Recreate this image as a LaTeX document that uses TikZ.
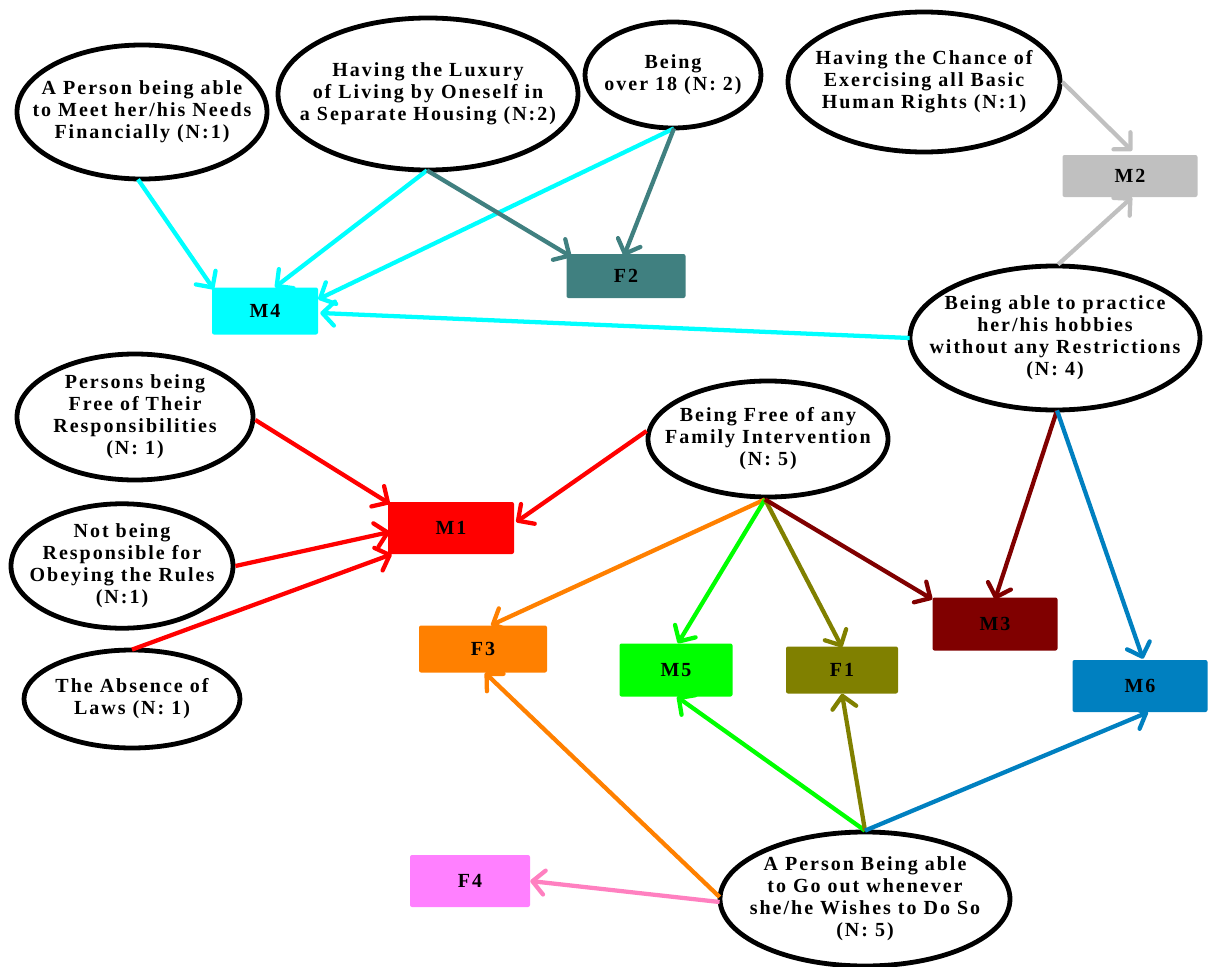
\documentclass[tikz,border=0pt]{standalone}
\usepackage{fontspec}
\setmainfont{Liberation Serif}[LetterSpace=10]
\usetikzlibrary{arrows.meta,calc,shapes.geometric}
\definecolor{cM4}{HTML}{00FFFF}
\definecolor{cF2}{HTML}{408080}
\definecolor{cM2}{HTML}{C0C0C0}
\definecolor{cM1}{HTML}{FF0000}
\definecolor{cF3}{HTML}{FF8000}
\definecolor{cM5}{HTML}{00FF00}
\definecolor{cF1}{HTML}{808000}
\definecolor{cM3}{HTML}{800000}
\definecolor{cM6}{HTML}{0080C0}
\definecolor{cF4}{HTML}{FF80FF}
\definecolor{cF4a}{HTML}{FF80C0}
\tikzset{
  ell/.style={draw=black, line width=3.6pt, ellipse, inner sep=0pt,
    font=\fontsize{15pt}{16.5pt}\selectfont\bfseries},
  box/.style={rectangle, rounded corners=1.5pt, inner sep=0pt, minimum width=#1*0.75pt,
    font=\fontsize{15pt}{16.5pt}\selectfont\bfseries},
  con/.style={line width=3.2pt, draw=#1, -{Straight Barb[length=9pt,width=18pt,line width=3.2pt,round]}}
}
\newcommand\E[6]{\node[ell, minimum width={#4*1.5pt}, minimum height={#5*1.5pt}] (#1) at (#2,#3)
  {\makebox[0pt][c]{\begin{tabular}{@{}c@{}}#6\end{tabular}}};}
\newcommand\B[7]{\node[box=#4, minimum height={#5*0.75pt}, fill=#6] (#1) at (#2,#3) {#7};}
\begin{document}
\begin{tikzpicture}[x=0.75pt,y=-0.75pt]
\useasboundingbox (0,0) rectangle (1208,967);
% ellipses
\E{e1}{142}{112}{125}{67}{A Person being able\\to Meet her/his Needs\\Financially (N:1)}
\E{e2}{428}{94}{150}{76}{Having the Luxury\\of Living by Oneself in\\a Separate Housing (N:2)}
\E{e3}{673}{75}{88}{53}{Being\\over 18 (N: 2)}
\E{e4}{924}{82}{136}{70}{Having the Chance of\\Exercising all Basic\\Human Rights (N:1)}
\E{e5}{1055}{338}{145}{72}{Being able to practice\\her/his hobbies\\without any Restrictions\\(N: 4)}
\E{e6}{135}{417}{118}{63}{Persons being\\Free of Their\\Responsibilities\\(N: 1)}
\E{e7}{122}{566}{111}{59}{Not being\\Responsible for\\Obeying the Rules\\(N:1)}
\E{e8}{132}{699}{108}{49}{The Absence of\\Laws (N: 1)}
\E{e9}{768}{439}{120}{58}{Being Free of any\\Family Intervention\\(N: 5)}
\E{e10}{865}{899}{145}{67}{A Person Being able\\to Go out whenever\\she/he Wishes to Do So\\(N: 5)}
% boxes
\B{M4}{265}{311}{106}{47}{cM4}{M4}
\B{F2}{626}{276}{119}{44}{cF2}{F2}
\B{M2}{1130}{176}{135}{42}{cM2}{M2}
\B{M1}{451}{528}{126}{52}{cM1}{M1}
\B{F3}{483}{649}{128}{47}{cF3}{F3}
\B{M5}{676}{670}{113}{53}{cM5}{M5}
\B{F1}{842}{670}{112}{47}{cF1}{F1}
\B{M3}{995}{624}{125}{53}{cM3}{M3}
\B{M6}{1140}{686}{135}{52}{cM6}{M6}
\B{F4}{470}{881}{120}{52}{cF4}{F4}
% connectors
\draw[con=cM4] ($(e1.south)+(-4,-2)$) -- ($(M4.north west)+(2,2)$);
\draw[con=cM4] ($(e2.south)+(-1,-2)$) -- ($(M4.north)+(10,0)$);
\draw[con=cM4] ($(e3.south)+(1,-2)$) -- ($(M4.north east)+(0,12)$);
\draw[con=cF2] ($(e2.south)+(-1,-2)$) -- ($(F2.north west)+(5,3)$);
\draw[con=cF2] ($(e3.south)+(1,-2)$) -- ($(F2.north)+(-2,2)$);
\draw[con=cM2] (e4.east) -- ($(M2.north)+(2,-4)$);
\draw[con=cM2] ($(e5.north)+(3,1)$) -- ($(M2.south)+(2,0)$);
\draw[con=cM4] ($(e5.west)+(2,0)$) -- ($(M4.east)+(2,2)$);
\draw[con=cM1] ($(e6.east)+(0,3)$) -- ($(M1.north west)+(2,2)$);
\draw[con=cM1] (e7.east) -- ($(M1.west)+(2,4)$);
\draw[con=cM1] ($(e8.north)+(0,2)$) -- ($(M1.south west)+(4,0)$);
\draw[con=cM1] ($(e9.west)+(1,-8)$) -- ($(M1.east)+(2,-6)$);
\draw[con=cF3] ($(e9.south)+(-3,0)$) -- ($(F3.north)+(8,0)$);
\draw[con=cM5] ($(e9.south)+(-3,0)$) -- ($(M5.north)+(2,0)$);
\draw[con=cF1] ($(e9.south)+(-3,0)$) -- ($(F1.north)+(0,1)$);
\draw[con=cM3] ($(e9.south)+(-3,0)$) -- ($(M3.north west)+(0,2)$);
\draw[con=cM3] ($(e5.south)+(2,-2)$) -- ($(M3.north)+(0,2)$);
\draw[con=cM6] ($(e5.south)+(2,-2)$) -- ($(M6.north)+(3,-1)$);
\draw[con=cM5] ($(e10.north)+(0,1)$) -- ($(M5.south)+(1,0)$);
\draw[con=cF1] ($(e10.north)+(0,1)$) -- ($(F1.south)+(0,0)$);
\draw[con=cM6] ($(e10.north)+(0,1)$) -- ($(M6.south)+(8,0)$);
\draw[con=cF3] ($(e10.west)+(2,-2)$) -- ($(F3.south)+(2,0)$);
\draw[con=cF4a] ($(e10.west)+(2,3)$) -- ($(F4.east)+(0,0)$);
\end{tikzpicture}
\end{document}
